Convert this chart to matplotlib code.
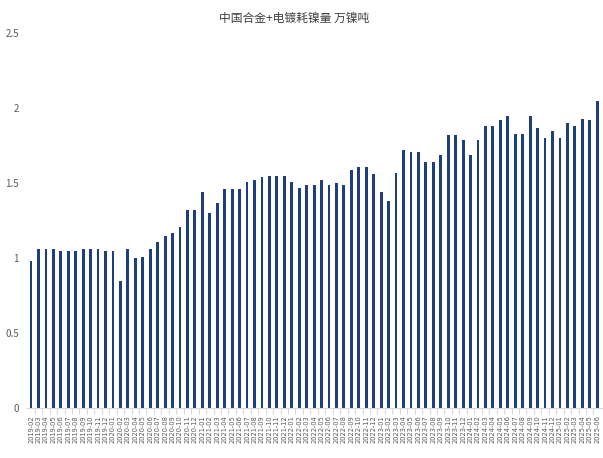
import numpy as np
import matplotlib
matplotlib.use("Agg")
import matplotlib.pyplot as plt
from matplotlib.ticker import FixedLocator

plt.rcParams['font.family'] = ['Noto Sans CJK SC', 'DejaVu Sans']

# monthly, 2019-02 .. 2025-06
months = []
for yr in range(2019, 2026):
    for mo in range(1, 13):
        if (yr == 2019 and mo < 2) or (yr == 2025 and mo > 6):
            continue
        months.append("%d-%02d" % (yr, mo))

# 万镍吨
values = [
    0.98, 1.06, 1.06, 1.06, 1.05, 1.05, 1.05, 1.06, 1.06, 1.06, 1.05,   # 2019
    1.05, 0.85, 1.06, 1.00, 1.01, 1.06, 1.11, 1.15, 1.17, 1.21, 1.32, 1.32,  # 2020
    1.44, 1.30, 1.37, 1.46, 1.46, 1.46, 1.51, 1.52, 1.54, 1.55, 1.55, 1.55,  # 2021
    1.51, 1.47, 1.49, 1.49, 1.52, 1.49, 1.50, 1.49, 1.59, 1.61, 1.61, 1.56,  # 2022
    1.44, 1.38, 1.57, 1.72, 1.71, 1.71, 1.64, 1.64, 1.69, 1.82, 1.82, 1.79,  # 2023
    1.69, 1.79, 1.88, 1.88, 1.92, 1.95, 1.83, 1.83, 1.95, 1.87, 1.80, 1.85,  # 2024
    1.80, 1.90, 1.88, 1.93, 1.92, 2.05,                                      # 2025
]

title = "中国合金+电镀耗镍量 万镍吨"
bar_color = "#1f3e7c"

fig = plt.figure(figsize=(6.03, 4.58), dpi=100)
ax = fig.add_axes([27 / 603, 49.7 / 458, 576 / 603, (408.3 - 33.3) / 458])

x = np.arange(len(months))
ax.bar(x, values, width=0.38, color=bar_color, zorder=2)

ax.set_ylim(0, 2.5)
ax.set_xlim(-0.54, len(months) - 1 + 0.78)
ax.set_yticks([0, 0.5, 1, 1.5, 2, 2.5])
ax.set_yticklabels(["0", "0.5", "1", "1.5", "2", "2.5"])
ax.tick_params(axis="y", length=0, pad=6, labelsize=7, labelcolor="#595959")

ax.set_xticks(x)
ax.set_xticklabels(months, rotation=90, fontsize=4.8, color="#595959",
                   family="DejaVu Sans")
ax.tick_params(axis="x", which="major", length=0, pad=5)
ax.xaxis.set_minor_locator(FixedLocator(x[:-1] + 0.5))
ax.tick_params(axis="x", which="minor", length=4, color="#d9d9d9", width=0.8)

for s in ["top", "right", "left"]:
    ax.spines[s].set_visible(False)
ax.spines["bottom"].set_color("#d9d9d9")
ax.spines["bottom"].set_linewidth(0.8)

fig.text(0.487, 1 - 18 / 458, title, ha="center", va="center",
         fontsize=8.5, color="#404040")

fig.savefig("out.png", dpi=100)
